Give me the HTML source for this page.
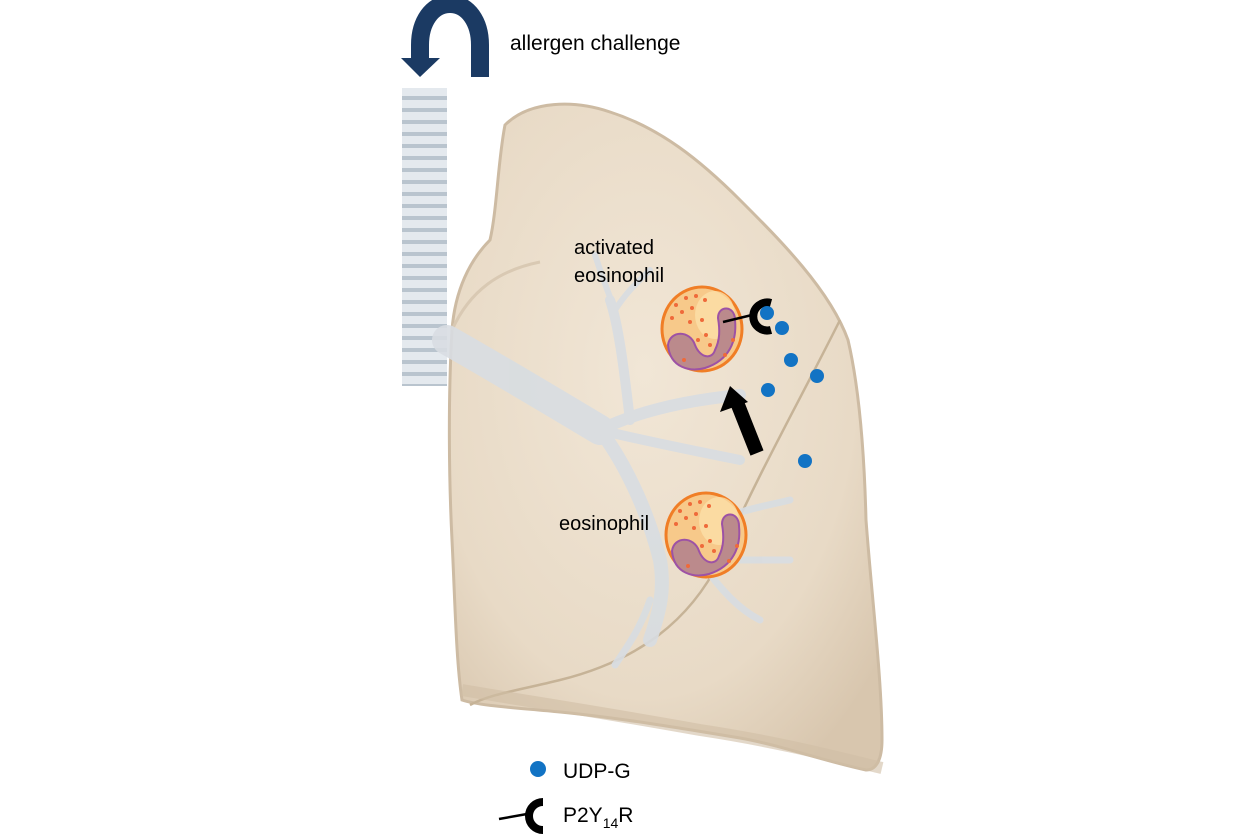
<!DOCTYPE html>
<html><head><meta charset="utf-8"><style>
html,body{margin:0;padding:0;background:#fff;}
svg{display:block;}
text{font-family:"Liberation Sans",Arial,sans-serif;fill:#000;}
</style></head><body>
<svg width="1254" height="836" viewBox="0 0 1254 836" xmlns="http://www.w3.org/2000/svg">
<defs>
<radialGradient id="lg" cx="0.45" cy="0.4" r="0.7">
<stop offset="0" stop-color="#f1e6d6"/><stop offset="0.7" stop-color="#e8dac6"/><stop offset="1" stop-color="#d8c6ae"/>
</radialGradient>
<pattern id="tr" width="45" height="12" patternUnits="userSpaceOnUse">
<rect width="45" height="12" fill="#e4e9ee"/>
<rect y="0" width="45" height="4" fill="#b9c4ce"/>
</pattern>
</defs>
<!-- allergen arrow -->
<path d="M480,77 L480,45 C480,22 468,4 450,4 C432,4 420,22 420,45 L420,60" fill="none" stroke="#1b3a63" stroke-width="18"/>
<polygon points="401,58 440,58 420,77" fill="#1b3a63"/>
<text x="510" y="50" font-size="21">allergen challenge</text>
<!-- trachea -->
<rect x="402" y="88" width="45" height="298" fill="url(#tr)"/>
<!-- lung -->
<path d="M505,125 C530,100 575,100 610,112 C660,128 700,160 740,200 C780,240 830,290 848,340 C862,400 865,480 866,520 C872,600 882,680 882,740 C882,760 876,770 866,770 C820,760 780,745 740,738 C680,728 620,718 560,712 C520,708 480,706 462,700 C456,660 455,600 452,540 C449,480 448,400 452,330 C455,290 470,260 490,240 C497,210 498,160 505,125 Z" fill="url(#lg)" stroke="#cdbba3" stroke-width="3"/>
<path d="M452,330 C470,290 500,270 540,262" fill="none" stroke="#d9c9b3" stroke-width="3"/>
<path d="M840,320 C800,400 760,470 720,560 C690,620 640,660 560,680 C520,690 490,694 470,705" fill="none" stroke="#c6b397" stroke-width="2.5"/>
<path d="M462,690 C520,700 600,712 700,730 C780,742 840,758 882,768" fill="none" stroke="#d0bea5" stroke-width="12" opacity="0.6"/>
<!-- bronchi -->
<g fill="none" stroke="#d8dde2" stroke-linecap="round" opacity="0.9">
<path d="M447,340 C500,370 550,400 600,430" stroke-width="30"/>
<path d="M600,430 C630,470 650,520 660,560 C665,590 660,610 650,640" stroke-width="14"/>
<path d="M600,430 C640,410 690,400 740,395" stroke-width="12"/>
<path d="M630,420 C625,380 620,330 610,300" stroke-width="10"/>
<path d="M615,310 C605,285 600,270 595,255 M615,310 C628,290 640,280 650,270" stroke-width="6"/>
<path d="M600,430 C640,440 690,450 740,460" stroke-width="10"/>
<path d="M700,560 C720,590 740,610 760,620 M720,520 C740,510 770,505 790,500 M710,560 C740,560 770,560 790,560" stroke-width="7"/>
<path d="M650,600 C640,630 625,650 615,665" stroke-width="7"/>
</g>
<!-- eosinophils -->
<g id="eo">
<ellipse cx="702" cy="329" rx="40" ry="42" fill="#f7c98a" stroke="#f07e26" stroke-width="3"/>
<ellipse cx="715" cy="315" rx="20" ry="24" fill="#fbe0a8" opacity="0.8"/>
<path d="M668,345 C670,330 690,330 695,345 C700,358 712,360 715,350 C720,340 720,330 718,318 C718,305 735,305 735,320 C737,340 730,360 705,368 C690,372 670,368 668,345 Z" fill="#bb8a8c" stroke="#9d52a5" stroke-width="2"/>
<g fill="#ef6a3a">
<circle cx="676" cy="305" r="2"/><circle cx="686" cy="298" r="2"/><circle cx="696" cy="296" r="2"/><circle cx="672" cy="318" r="2"/><circle cx="682" cy="312" r="2"/><circle cx="692" cy="308" r="2"/><circle cx="702" cy="320" r="2"/><circle cx="690" cy="322" r="2"/><circle cx="706" cy="335" r="2"/><circle cx="698" cy="340" r="2"/><circle cx="710" cy="345" r="2"/><circle cx="684" cy="360" r="2"/><circle cx="725" cy="355" r="2"/><circle cx="733" cy="340" r="2"/><circle cx="705" cy="300" r="2"/>
</g>
</g>
<use href="#eo" transform="translate(4,206)"/>
<text x="574" y="254" font-size="20">activated</text>
<text x="574" y="282" font-size="20">eosinophil</text>
<text x="559" y="530" font-size="20">eosinophil</text>
<!-- receptor -->
<line x1="723" y1="322" x2="752" y2="315" stroke="#000" stroke-width="2.5"/>
<path d="M771,303 A14,14 0 1,0 771,330" fill="none" stroke="#000" stroke-width="8"/>
<!-- black arrow -->
<line x1="757" y1="453" x2="738" y2="405" stroke="#000" stroke-width="14"/>
<polygon points="730,386 720,412 748,402" fill="#000"/>
<!-- dots -->
<g fill="#1273c4">
<circle cx="767" cy="313" r="7"/><circle cx="782" cy="328" r="7"/><circle cx="791" cy="360" r="7"/><circle cx="817" cy="376" r="7"/><circle cx="768" cy="390" r="7"/><circle cx="805" cy="461" r="7"/><circle cx="538" cy="769" r="8"/>
</g>
<text x="563" y="778" font-size="21">UDP-G</text>
<line x1="499" y1="819" x2="527" y2="814" stroke="#000" stroke-width="2.5"/>
<path d="M543,802 A14,14 0 1,0 543,830" fill="none" stroke="#000" stroke-width="8"/>
<text x="563" y="822" font-size="21">P2Y<tspan font-size="14" dy="6">14</tspan><tspan dy="-6">R</tspan></text>
</svg>
</body></html>
